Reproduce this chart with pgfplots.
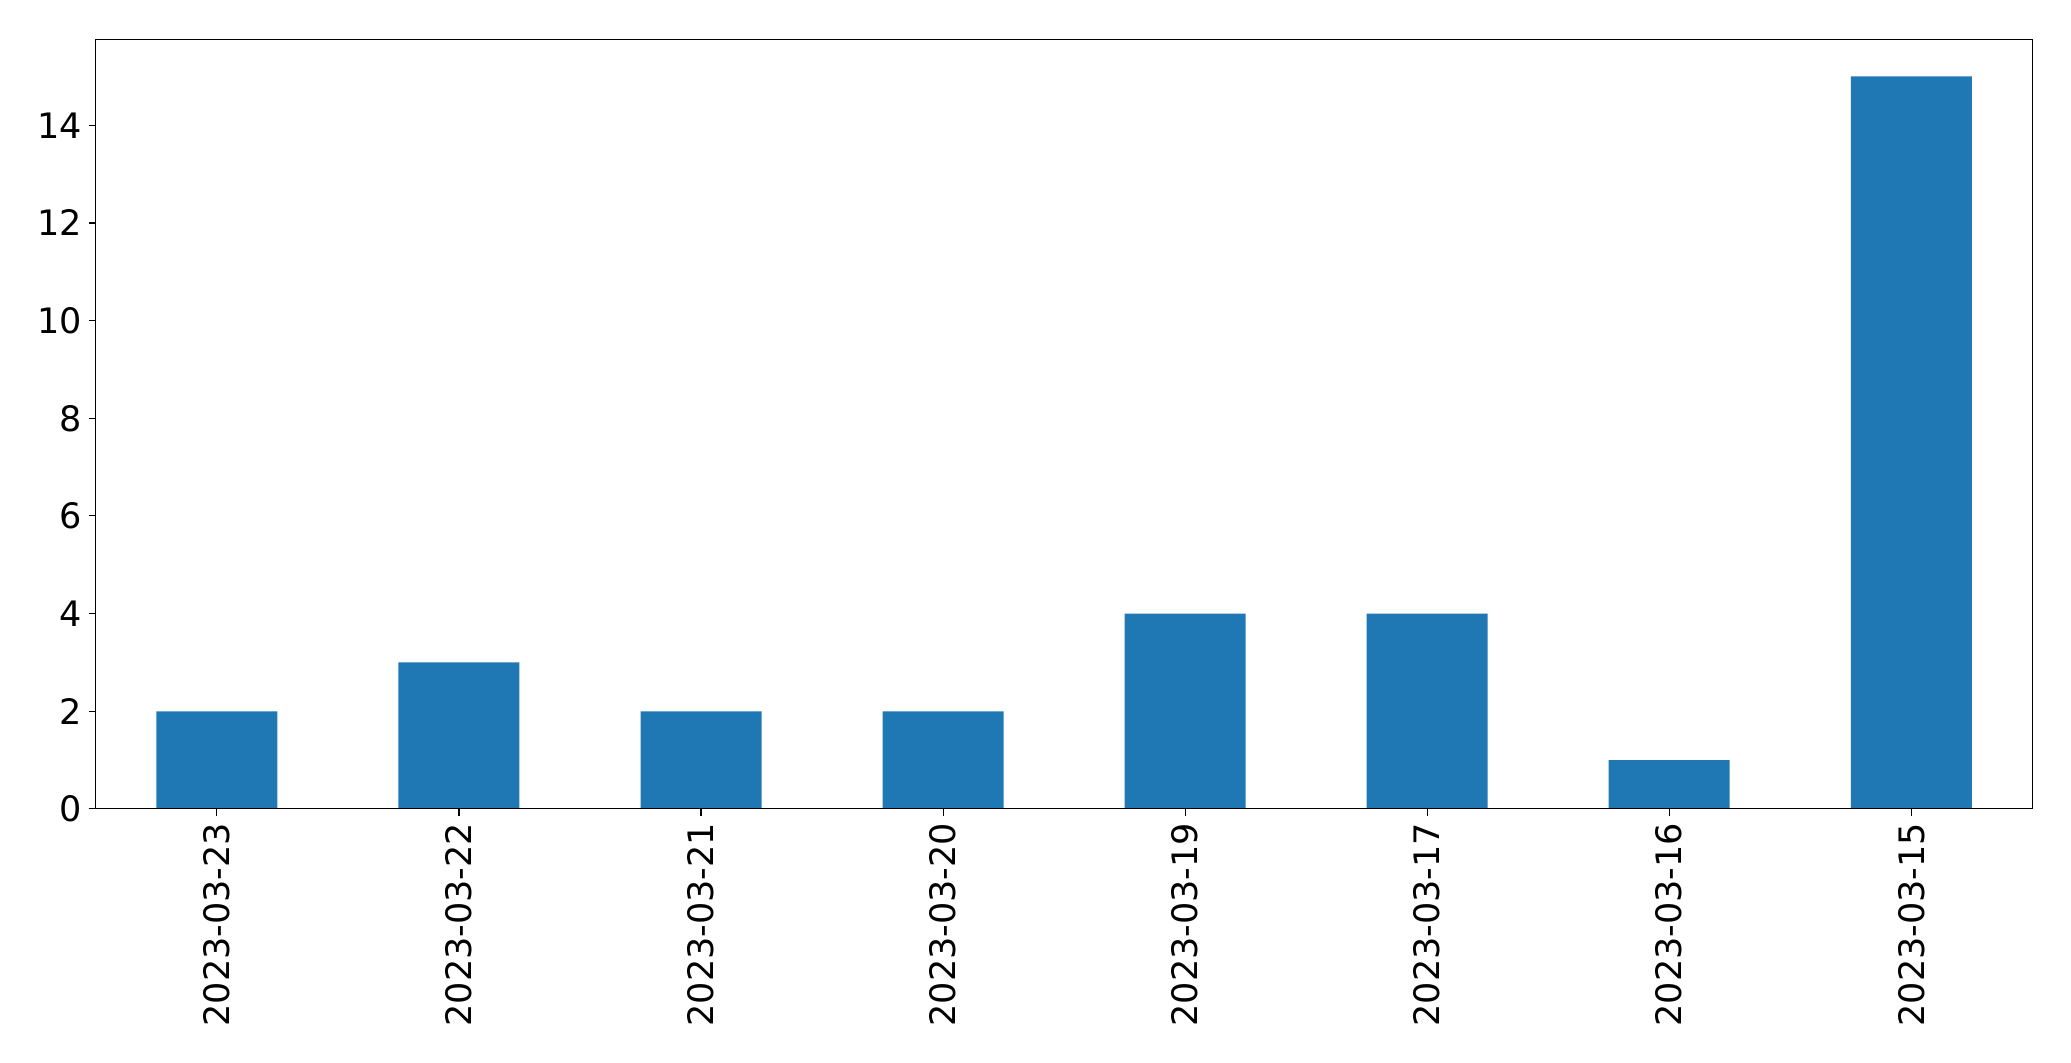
\documentclass[border=0pt]{standalone}
\usepackage{pgfplots}
\pgfplotsset{compat=1.18}
\usepackage{fontspec}
\setmainfont{DejaVu Sans}
\definecolor{mplblue}{HTML}{1F77B4}
\begin{document}
\begin{tikzpicture}
\begin{axis}[
  width=1050pt, height=417pt, scale only axis,
  xmin=-0.5, xmax=7.5, ymin=0, ymax=15.75,
  xtick={0,1,2,3,4,5,6,7},
  xticklabels={2023-03-23,2023-03-22,2023-03-21,2023-03-20,2023-03-19,2023-03-17,2023-03-16,2023-03-15},
  xticklabel style={rotate=90, anchor=east},
  ytick={0,2,4,6,8,10,12,14},
  tick pos=left, tick align=outside,
  major tick length=4pt,
  tick style={black, line width=0.6pt},
  axis line style={line width=0.6pt},
  ticklabel style={font=\fontsize{19}{22}\selectfont},
  /pgf/number format/assume math mode=true,
  axis on top,
]
\addplot[ybar, bar width=0.5, fill=mplblue, draw=none, bar shift=0pt] coordinates {
(0,2) (1,3) (2,2) (3,2) (4,4) (5,4) (6,1) (7,15)
};
\end{axis}
\pgfresetboundingbox
\path[use as bounding box] ([xshift=-52pt,yshift=-137.4pt]current axis.south west) rectangle ([xshift=21pt,yshift=21.6pt]current axis.north east);
\end{tikzpicture}
\end{document}
